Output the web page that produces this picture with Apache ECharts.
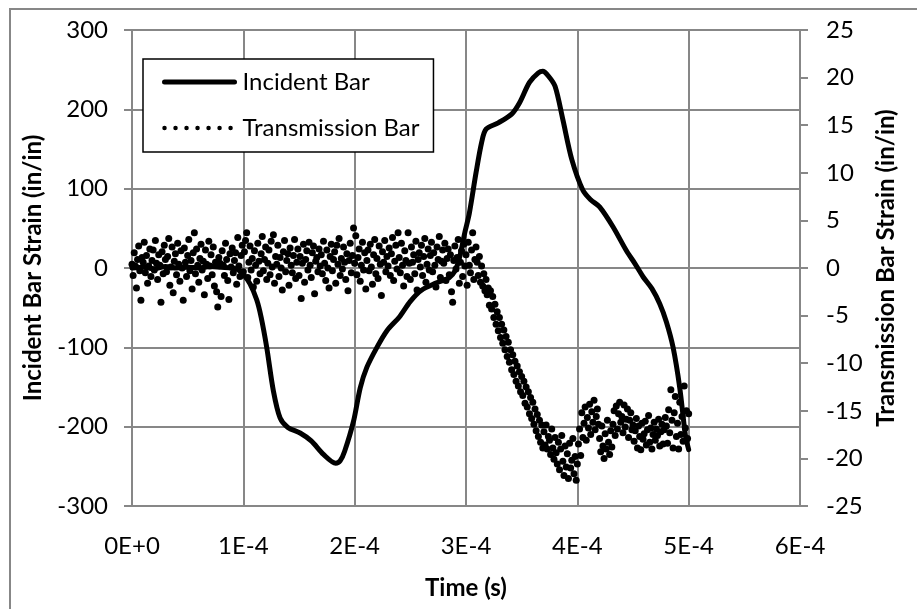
<!DOCTYPE html>
<html>
<head>
<meta charset="utf-8">
<script src="https://cdn.jsdelivr.net/npm/echarts@6/dist/echarts.min.js"></script>
<style>html,body{margin:0;padding:0;background:#fff}#c{width:917px;height:609px}</style>
</head>
<body>
<div id="c"></div>
<script>
// ---- data ----
const xTickLabels = ['0E+0','1E-4','2E-4','3E-4','4E-4','5E-4','6E-4'];
const incidentTime = [0,1e-5,2e-5,3e-5,4e-5,5e-5,6e-5,7e-5,8e-5,9e-5,0.95e-4,1.0e-4,1.06e-4,1.12e-4,1.16e-4,1.21e-4,1.27e-4,1.33e-4,1.40e-4,1.51e-4,1.61e-4,1.72e-4,1.83e-4,1.87e-4,1.91e-4,1.99e-4,2.05e-4,2.11e-4,2.20e-4,2.29e-4,2.40e-4,2.50e-4,2.60e-4,2.73e-4,2.85e-4,2.90e-4,2.94e-4,2.99e-4,3.03e-4,3.09e-4,3.14e-4,3.18e-4,3.29e-4,3.41e-4,3.48e-4,3.57e-4,3.65e-4,3.69e-4,3.74e-4,3.80e-4,3.87e-4,3.95e-4,4.05e-4,4.12e-4,4.20e-4,4.32e-4,4.44e-4,4.52e-4,4.59e-4,4.67e-4,4.74e-4,4.80e-4,4.86e-4,4.92e-4,4.97e-4,5.0e-4];
const incidentStrain = [0,1,-1,2,0,1,0,2,1,0,-2,-8,-20,-40,-62,-100,-155,-189,-201,-208,-218,-235,-246,-243,-231,-193,-151,-125,-100,-79,-62,-42,-28,-19,-12,-4,12,45,69,120,158,175,183,194,208,234,246,248,242,229,187,137,98,86,77,52,22,5,-11,-26,-45,-68,-100,-151,-210,-229];
const transStep = 1e-6; // sampling interval of the transmission bar record
const transStrain = [
 0.4,-0.8,1.6,0.2,-2.1,0.9,2.3,-0.3,-3.4,1.1,
 0.6,2.7,-0.5,1.3,-1.6,0.2,2.0,-0.9,0.8,1.9,
 -0.2,2.9,0.5,-1.2,1.4,0.3,-3.6,1.7,-0.6,2.4,
 0.9,-0.4,1.2,3.1,-1.8,0.1,2.2,-2.6,0.7,1.5,
 -0.7,2.6,0.4,-1.4,1.8,0.0,-3.4,2.1,0.6,-0.9,
 1.3,3.0,-0.3,0.8,-2.2,1.6,3.7,-0.6,2.0,0.3,
 -1.5,1.0,2.5,-0.2,0.7,-2.8,1.9,0.4,-1.1,2.8,
 0.2,1.4,-0.7,2.2,-1.9,0.6,-2.5,-4.1,1.1,0.5,
 -3.0,1.8,0.3,-0.8,2.6,0.9,-1.3,-3.3,1.5,0.1,
 2.1,-0.5,0.8,1.6,-1.7,3.2,0.2,-0.9,1.3,2.4,
 -0.4,1.7,2.9,3.7,-1.0,0.6,2.3,-0.2,1.0,-2.0,
 1.8,0.3,-1.4,2.6,0.7,-0.6,1.5,3.3,-0.3,0.9,
 2.2,-1.2,0.5,1.9,-0.7,2.8,0.1,3.5,-1.6,1.2,
 0.4,2.4,-0.9,1.1,0.0,-2.3,1.7,2.9,-0.4,0.8,
 1.5,-1.8,2.1,0.3,-0.5,1.3,3.0,-1.1,0.6,2.0,
 -0.8,1.2,-3.2,0.5,2.5,-1.5,0.9,1.8,-0.2,2.7,
 0.3,-1.0,1.6,2.3,-2.7,0.7,1.1,-0.4,2.0,0.2,
 1.4,-0.6,2.8,0.5,-1.3,1.9,0.0,-2.1,1.2,2.5,
 -0.3,0.9,1.7,-1.6,2.4,0.4,3.1,-0.8,1.0,-0.1,
 2.2,0.6,-1.2,1.5,-2.4,0.8,2.6,-0.5,1.3,4.2,
 0.5,3.4,-0.7,1.1,2.0,-1.4,0.3,2.7,-0.2,1.6,
 -2.2,0.8,1.9,-0.3,2.5,0.1,-1.7,1.4,3.0,-0.6,
 1.0,-1.1,2.3,0.4,-2.9,1.7,0.6,2.9,-0.4,1.2,
 0.2,2.1,-0.8,1.5,3.2,-1.3,0.7,2.4,-0.1,3.7,
 1.1,-0.5,2.6,0.3,-1.9,1.8,0.8,-0.9,3.7,0.5,
 -1.2,2.2,0.6,1.4,-0.6,2.8,-2.3,0.9,1.6,0.1,
 2.4,-0.8,1.2,3.1,-1.5,0.4,2.0,-0.2,1.3,2.7,
 -0.4,1.6,0.3,-2.0,2.2,0.9,3.3,-1.0,0.7,1.9,
 0.5,2.6,-1.3,1.0,2.0,-0.7,1.4,-2.5,-3.6,0.8,
 2.3,-0.1,1.1,3.0,-1.6,0.6,1.8,-0.9,2.5,0.2,
 1.4,-1.8,2.7,0.3,-0.5,1.9,3.7,-1.2,0.9,2.2,
 0.6,-0.8,1.2,-1.5,0.2,-1.9,-0.6,-2.4,-1.2,-2.8,
 -2.1,-3.9,-2.4,-4.3,-3.0,-5.2,-3.8,-5.9,-4.6,-6.6,
 -5.2,-7.3,-5.9,-7.9,-6.5,-8.6,-7.2,-9.3,-7.8,-9.9,
 -8.6,-10.7,-9.1,-11.2,-9.8,-11.9,-10.3,-12.4,-10.9,-13.0,
 -11.4,-13.4,-11.9,-14.2,-12.5,-14.6,-13.0,-15.3,-13.6,-15.8,
 -14.1,-16.4,-14.8,-17.1,-15.4,-17.7,-16.0,-18.3,-16.5,-18.9,
 -17.2,-18.6,-16.5,-19.0,-17.7,-18.1,-19.6,-16.9,-18.9,-20.1,
 -17.8,-19.4,-20.6,-18.3,-21.2,-19.0,-17.6,-20.3,-21.8,-18.7,
 -20.9,-19.5,-22.1,-18.4,-21.0,-20.2,-17.9,-21.6,-19.8,-22.3,
 -20.6,-18.5,-16.9,-19.7,-15.2,-17.8,-16.3,-14.6,-18.1,-15.7,
 -16.8,-14.3,-17.5,-15.1,-16.2,-13.9,-17.0,-15.6,-14.8,-16.4,
 -17.9,-19.3,-16.6,-18.7,-20.0,-17.4,-19.0,-16.0,-18.3,-19.6,
 -17.1,-18.8,-16.4,-15.0,-17.6,-14.5,-16.9,-15.3,-14.1,-16.2,
 -15.6,-17.3,-14.4,-16.7,-15.9,-14.8,-17.8,-16.0,-15.2,-17.0,
 -16.5,-18.2,-17.1,-15.8,-18.9,-16.6,-17.7,-19.1,-16.3,-18.0,
 -17.4,-16.1,-18.6,-17.0,-15.5,-18.3,-16.8,-19.0,-17.5,-16.2,
 -18.1,-16.9,-17.6,-15.9,-18.7,-17.2,-16.4,-18.5,-17.0,-15.7,
 -16.6,-18.4,-14.9,-17.3,-12.8,-16.0,-18.9,-15.2,-13.5,-17.7,
 -16.3,-19.0,-14.1,-17.5,-15.6,-18.2,-12.4,-16.8,-15.0,-17.9,
 -15.3
];

const FONT = 'Lato';
const GRAY = '#878787';
const incidentData = incidentTime.map((t, i) => [t, incidentStrain[i]]);
const transData = transStrain.map((v, i) => [i * transStep, v]);

const chart = echarts.init(document.getElementById('c'));
chart.setOption({
  animation: false,
  backgroundColor: '#fff',
  textStyle: { fontFamily: FONT },
  grid: { left: 132, right: 117, top: 30, bottom: 103 },
  xAxis: {
    type: 'value', min: 0, max: 6e-4, interval: 1e-4,
    axisLine: { lineStyle: { color: GRAY, width: 2 } },
    axisTick: { show: true, inside: false, length: 8, lineStyle: { color: GRAY, width: 2 } },
    splitLine: { show: true, lineStyle: { color: GRAY, width: 2 } },
    axisLabel: { color: '#000', fontSize: 24, fontFamily: FONT, margin: 28,
      formatter: v => xTickLabels[Math.round(v / 1e-4)] }
  },
  yAxis: [{
    type: 'value', min: -300, max: 300, interval: 100, position: 'left',
    axisLine: { show: true, lineStyle: { color: GRAY, width: 2 } },
    axisTick: { show: true, length: 8, lineStyle: { color: GRAY, width: 2 } },
    splitLine: { show: true, lineStyle: { color: GRAY, width: 2 } },
    axisLabel: { color: '#000', fontSize: 24, fontFamily: FONT, margin: 24 }
  }, {
    type: 'value', min: -25, max: 25, interval: 5, position: 'right',
    axisLine: { show: true, lineStyle: { color: GRAY, width: 2 } },
    axisTick: { show: true, length: 8, lineStyle: { color: GRAY, width: 2 } },
    splitLine: { show: false },
    axisLabel: { color: '#000', fontSize: 24, fontFamily: FONT, margin: 26 }
  }],
  legend: {
    orient: 'vertical', left: 143, top: 59,
    padding: [9, 14, 10, 19], itemGap: 18, itemWidth: 70, itemHeight: 14,
    borderColor: '#000', borderWidth: 1.5, backgroundColor: '#fff',
    textStyle: { color: '#000', fontSize: 24, fontFamily: FONT, lineHeight: 28, padding: [0, 0, 0, 3] },
    data: [
      { name: 'Incident Bar', itemStyle: { opacity: 0 }, lineStyle: { width: 5, color: '#000', opacity: 1 } },
      { name: 'Transmission Bar', itemStyle: { opacity: 0 }, lineStyle: { width: 4.5, color: '#000', opacity: 1, type: [0.01, 11], cap: 'round' } }
    ]
  },
  series: [{
    name: 'Transmission Bar', type: 'line', yAxisIndex: 1, data: transData,
    showSymbol: true, showAllSymbol: true, symbol: 'circle', symbolSize: 7,
    itemStyle: { color: '#000' }, lineStyle: { width: 0, opacity: 0 }, z: 2
  }, {
    name: 'Incident Bar', type: 'line', yAxisIndex: 0, data: incidentData,
    showSymbol: false, symbol: 'none', smooth: 0.3,
    itemStyle: { color: '#000' }, lineStyle: { width: 5, color: '#000', cap: 'round', join: 'round' }, z: 3
  }],
  graphic: [
    { type: 'rect', shape: { x: 10, y: 9, width: 930, height: 620 }, style: { fill: 'none', stroke: GRAY, lineWidth: 2 }, z: -10, silent: true },
    { type: 'text', x: 33, y: 268, rotation: Math.PI / 2, style: { text: 'Incident Bar Strain (in/in)', fontSize: 24, fontWeight: 'bold', fontFamily: FONT, fill: '#000', align: 'center', verticalAlign: 'middle' } },
    { type: 'text', x: 886, y: 268, rotation: Math.PI / 2, style: { text: 'Transmission Bar Strain (in/in)', fontSize: 24, fontWeight: 'bold', fontFamily: FONT, fill: '#000', align: 'center', verticalAlign: 'middle' } },
    { type: 'text', x: 466, y: 588, style: { text: 'Time (s)', fontSize: 24, fontWeight: 'bold', fontFamily: FONT, fill: '#000', align: 'center', verticalAlign: 'middle' } }
  ]
});
</script>
</body>
</html>
